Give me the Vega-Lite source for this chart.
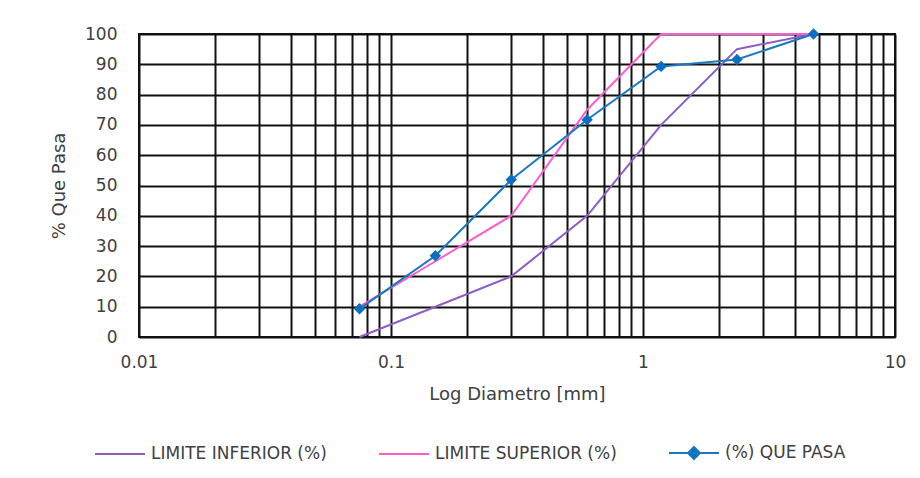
{
  "$schema": "https://vega.github.io/schema/vega-lite/v6.json",
  "width": 756,
  "height": 303,
  "autosize": {"type": "none"},
  "padding": {"left": 139, "top": 34, "right": 25, "bottom": 141},
  "background": "white",
  "config": {
    "font": "DejaVu Sans",
    "view": {"stroke": "#111", "strokeWidth": 2},
    "axis": {"labelColor": "#404040", "titleColor": "#404040", "labelFont": "DejaVu Sans", "titleFont": "DejaVu Sans", "titleFontWeight": "normal"}
  },
  "data": {
    "values": [
      {"d": 0.075, "pct": 0, "serie": "LIMITE INFERIOR (%)"},
      {"d": 0.15, "pct": 10, "serie": "LIMITE INFERIOR (%)"},
      {"d": 0.3, "pct": 20, "serie": "LIMITE INFERIOR (%)"},
      {"d": 0.6, "pct": 40, "serie": "LIMITE INFERIOR (%)"},
      {"d": 1.18, "pct": 70, "serie": "LIMITE INFERIOR (%)"},
      {"d": 2.36, "pct": 95, "serie": "LIMITE INFERIOR (%)"},
      {"d": 4.75, "pct": 100, "serie": "LIMITE INFERIOR (%)"},
      {"d": 0.075, "pct": 10, "serie": "LIMITE SUPERIOR (%)"},
      {"d": 0.15, "pct": 25, "serie": "LIMITE SUPERIOR (%)"},
      {"d": 0.3, "pct": 40, "serie": "LIMITE SUPERIOR (%)"},
      {"d": 0.6, "pct": 75, "serie": "LIMITE SUPERIOR (%)"},
      {"d": 1.18, "pct": 100, "serie": "LIMITE SUPERIOR (%)"},
      {"d": 2.36, "pct": 100, "serie": "LIMITE SUPERIOR (%)"},
      {"d": 4.75, "pct": 100, "serie": "LIMITE SUPERIOR (%)"},
      {"d": 0.075, "pct": 9.3, "serie": "(%) QUE PASA"},
      {"d": 0.15, "pct": 26.8, "serie": "(%) QUE PASA"},
      {"d": 0.3, "pct": 51.9, "serie": "(%) QUE PASA"},
      {"d": 0.6, "pct": 71.7, "serie": "(%) QUE PASA"},
      {"d": 1.18, "pct": 89.3, "serie": "(%) QUE PASA"},
      {"d": 2.36, "pct": 91.6, "serie": "(%) QUE PASA"},
      {"d": 4.75, "pct": 100, "serie": "(%) QUE PASA"}
    ]
  },
  "encoding": {
    "x": {
      "field": "d",
      "type": "quantitative",
      "scale": {"type": "log", "domain": [0.01, 10], "nice": false},
      "axis": {
        "title": "Log Diametro [mm]",
        "titleFontSize": 18,
        "titlePadding": 15,
        "labelFontSize": 17,
        "labelPadding": 17,
        "labelFlush": false,
        "labelOverlap": false,
        "ticks": false,
        "domain": false,
        "grid": true,
        "gridColor": "#111",
        "gridWidth": 2,
        "values": [0.01,0.02,0.03,0.04,0.05,0.06,0.07,0.08,0.09,0.1,0.2,0.3,0.4,0.5,0.6,0.7,0.8,0.9,1,2,3,4,5,6,7,8,9,10],
        "labelExpr": "(datum.value == 0.01 || datum.value == 0.1 || datum.value == 1 || datum.value == 10) ? toString(datum.value) : ''"
      }
    },
    "y": {
      "field": "pct",
      "type": "quantitative",
      "scale": {"domain": [0, 100], "nice": false},
      "axis": {
        "title": "% Que Pasa",
        "titleFontSize": 18,
        "titlePadding": 16,
        "labelFontSize": 17,
        "labelPadding": 22,
        "labelFlush": false,
        "ticks": false,
        "domain": false,
        "grid": true,
        "gridColor": "#111",
        "gridWidth": 2,
        "values": [0,10,20,30,40,50,60,70,80,90,100]
      }
    }
  },
  "layer": [
    {
      "mark": {"type": "line", "strokeWidth": 2},
      "encoding": {
        "color": {
          "field": "serie",
          "type": "nominal",
          "sort": ["LIMITE INFERIOR (%)", "LIMITE SUPERIOR (%)", "(%) QUE PASA"],
          "scale": {"domain": ["LIMITE INFERIOR (%)", "LIMITE SUPERIOR (%)", "(%) QUE PASA"], "range": ["#8E5DC4", "#FF5CD0", "#1A78C2"]},
          "legend": {
            "title": null,
            "orient": "none",
            "direction": "horizontal",
            "legendX": -45,
            "legendY": 393,
            "padding": 0,
            "symbolSize": 2500,
            "symbolStrokeWidth": 2,
            "labelFont": "DejaVu Sans",
            "labelFontSize": 17,
            "labelColor": "#404040",
            "labelOffset": 5,
            "labelLimit": 0,
            "columnPadding": 48,
            "encode": {
              "symbols": {
                "update": {
                  "shape": {"signal": "datum.value === '(%) QUE PASA' ? 'M-1,0L1,0M0,-0.24L0.24,0L0,0.24L-0.24,0Z' : 'M-1,0L1,0'"},
                  "fill": {"signal": "datum.value === '(%) QUE PASA' ? '#0A6FC0' : 'transparent'"}
                }
              }
            }
          }
        }
      }
    },
    {
      "transform": [{"filter": "datum.serie === '(%) QUE PASA'"}],
      "mark": {"type": "point", "shape": "diamond", "filled": true, "size": 130, "color": "#0A6FC0", "opacity": 1}
    }
  ]
}
